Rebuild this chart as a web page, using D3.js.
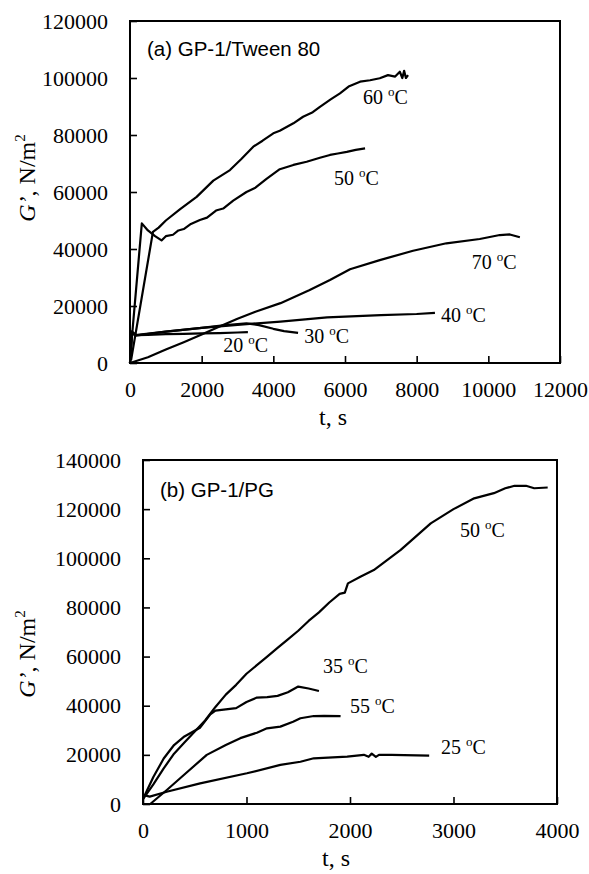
<!DOCTYPE html>
<html>
<head>
<meta charset="utf-8">
<script src="https://cdn.jsdelivr.net/npm/d3@7"></script>
<style>
body{margin:0;background:#fff;}
svg{display:block;}
</style>
</head>
<body>
<div id="chart"></div>
<script>
// panel (a) GP-1/Tween 80 : t (s), G' (N/m2)
var a20_t=[0,50,190,500,1000,1500,2000,2500,3000,3290];
var a20_g=[0,11000,9800,9900,10100,10200,10400,10500,10700,10800];
var a30_t=[0,50,150,1000,2000,2600,3250,3600,4000,4300,4690];
var a30_g=[0,11000,9800,11000,12300,13200,13900,13300,12000,11200,10600];
var a40_t=[0,50,150,1000,2000,3000,4200,5500,7000,8000,8510];
var a40_g=[0,10500,9600,11000,12300,13400,14500,16000,16800,17200,17600];
var a50_t=[0,60,330,500,700,880,1000,1200,1350,1500,1700,1950,2150,2400,2600,2880,3250,3500,3800,4180,4560,4930,5300,5580,5800,6050,6300,6560];
var a50_g=[0,10000,49000,46500,44500,43000,44500,45000,46500,47000,48800,50200,51000,53500,54200,57000,60000,61500,64500,68000,69500,70600,72000,73000,73500,74100,74800,75300];
var a60_t=[30,640,800,1000,1400,1860,2325,2790,3100,3440,3700,4000,4180,4560,4830,5100,5300,5600,5860,6100,6420,6700,6970,7200,7400,7530,7600,7650,7700,7760];
var a60_g=[1000,46000,47500,50000,54000,58300,64000,67700,71500,75900,78000,80600,81500,84100,86400,88000,89900,92500,94600,97000,98700,99200,99900,101000,100500,102200,100000,102500,100000,101000];
var a70_t=[0,500,1000,1500,2000,2500,3000,3500,4200,5000,5580,6140,6970,7900,8830,9760,10320,10600,10880];
var a70_g=[0,2000,4700,7300,10000,12800,15500,18000,21000,25500,29100,32900,36100,39400,42000,43500,44900,45100,44100];

// panel (b) GP-1/PG
var b25_t=[0,65,229,552,1004,1327,1521,1650,1973,2134,2180,2210,2250,2280,2400,2765];
var b25_g=[3700,3000,5000,8400,12500,15900,17200,18600,19300,20000,19200,20500,19200,20000,20000,19700];
var b35_t=[0,100,200,300,400,550,650,700,800,900,1000,1100,1200,1300,1400,1500,1600,1700];
var b35_g=[2000,11000,18500,24000,27500,31000,36500,38000,38500,39000,41500,43300,43500,44000,45500,47800,47000,46000];
var b50_t=[0,100,200,300,400,500,600,700,800,900,1000,1100,1200,1300,1400,1500,1600,1700,1800,1900,1950,1980,2100,2230,2490,2780,3000,3200,3390,3500,3590,3700,3780,3910];
var b50_g=[2000,8000,14500,20500,25000,29500,34000,39500,44500,48500,53000,56500,60000,63500,67000,70500,74500,78000,82000,85500,86000,89800,92500,95200,103400,114200,120000,124400,126500,128500,129500,129500,128500,128800];
var b55_t=[70,230,400,616,800,940,1100,1198,1327,1450,1521,1650,1750,1909];
var b55_g=[0,5700,12000,20000,24000,26800,29000,30800,31500,33500,34900,35800,35900,35800];

// tick values
var a_xticks=[0,2000,4000,6000,8000,10000,12000];
var a_yticks=[0,20000,40000,60000,80000,100000,120000];
var b_xticks=[0,1000,2000,3000,4000];
var b_yticks=[0,20000,40000,60000,80000,100000,120000,140000];

// curve labels: temperature, t, G (left/baseline of text)
var a_labels=[[60,6500,90900],[50,5690,62500],[70,9540,33000],[40,8680,14400],[30,4860,7000],[20,2600,3860]];
var b_labels=[[50,3063,108700],[35,1739,53300],[55,2000,37000],[25,2879,20350]];

var svg=d3.select('#chart').append('svg').attr('width',589).attr('height',874);

function zip(t,g){ return t.map(function(v,i){ return [v,g[i]]; }); }

function drawPanel(p){
    var x=d3.scaleLinear().domain([0,p.xmax]).range([p.left,p.right]);
    var y=d3.scaleLinear().domain([0,p.ymax]).range([p.bottom,p.top]);
    var g=svg.append('g');

    var xa=g.append('g').attr('transform','translate(0,'+p.bottom+')')
        .call(d3.axisBottom(x).tickValues(p.xticks).tickSizeInner(-7).tickSizeOuter(0).tickPadding(18).tickFormat(d3.format('d')));
    var ya=g.append('g').attr('transform','translate('+p.left+',0)')
        .call(d3.axisLeft(y).tickValues(p.yticks).tickSizeInner(-7).tickSizeOuter(0).tickPadding(22).tickFormat(d3.format('d')));
    [xa,ya].forEach(function(a){
        a.select('.domain').remove();
        a.selectAll('line').attr('stroke','#000').attr('stroke-width',1.6);
        a.selectAll('text').attr('fill','#000').style('font-family','"Liberation Serif", serif').style('font-size','22px');
    });

    g.append('rect').attr('x',p.left).attr('y',p.top)
        .attr('width',p.right-p.left).attr('height',p.bottom-p.top)
        .attr('fill','none').attr('stroke','#000').attr('stroke-width',2);

    var line=d3.line().x(function(d){return x(d[0]);}).y(function(d){return y(d[1]);});
    p.series.forEach(function(s){
        g.append('path').datum(s).attr('d',line)
            .attr('fill','none').attr('stroke','#000').attr('stroke-width',2.2).attr('stroke-linejoin','round');
    });

    p.labels.forEach(function(l){
        var t=g.append('text').attr('x',x(l[1])).attr('y',y(l[2]))
            .style('font-family','"Liberation Serif", serif').style('font-size','20px').attr('fill','#000');
        t.append('tspan').text(l[0]+' ');
        t.append('tspan').text('o').style('font-size','13px').attr('dy',-8);
        t.append('tspan').text('C').attr('dy',8);
    });

    g.append('text').attr('x',p.left+17).attr('y',p.titleY).text(p.title)
        .style('font-family','"Liberation Sans", Arial, sans-serif').style('font-size','20.5px').attr('fill','#000');

    g.append('text').attr('x',p.tx).attr('y',p.bottom+62).attr('text-anchor','middle')
        .style('font-family','"Liberation Serif", serif').style('font-size','24px').text('t, s');

    var yl=g.append('text').attr('transform','translate(35,'+p.ly+') rotate(-90)').attr('text-anchor','middle')
        .style('font-family','"Liberation Serif", serif').style('font-size','24px');
    yl.append('tspan').text('G’').style('font-style','italic');
    yl.append('tspan').text(', N/m');
    yl.append('tspan').text('2').style('font-size','15px').attr('dy',-10);
}

drawPanel({left:130,right:560,top:21,bottom:363,xmax:12000,ymax:120000,
    xticks:a_xticks,yticks:a_yticks,title:'(a) GP-1/Tween 80',titleY:56,tx:333,ly:178,
    series:[zip(a20_t,a20_g),zip(a30_t,a30_g),zip(a40_t,a40_g),zip(a50_t,a50_g),zip(a60_t,a60_g),zip(a70_t,a70_g)],
    labels:a_labels});

drawPanel({left:143,right:557,top:460,bottom:804,xmax:4000,ymax:140000,
    xticks:b_xticks,yticks:b_yticks,title:'(b) GP-1/PG',titleY:497,tx:336,ly:654,
    series:[zip(b25_t,b25_g),zip(b35_t,b35_g),zip(b50_t,b50_g),zip(b55_t,b55_g)],
    labels:b_labels});
</script>
</body>
</html>
